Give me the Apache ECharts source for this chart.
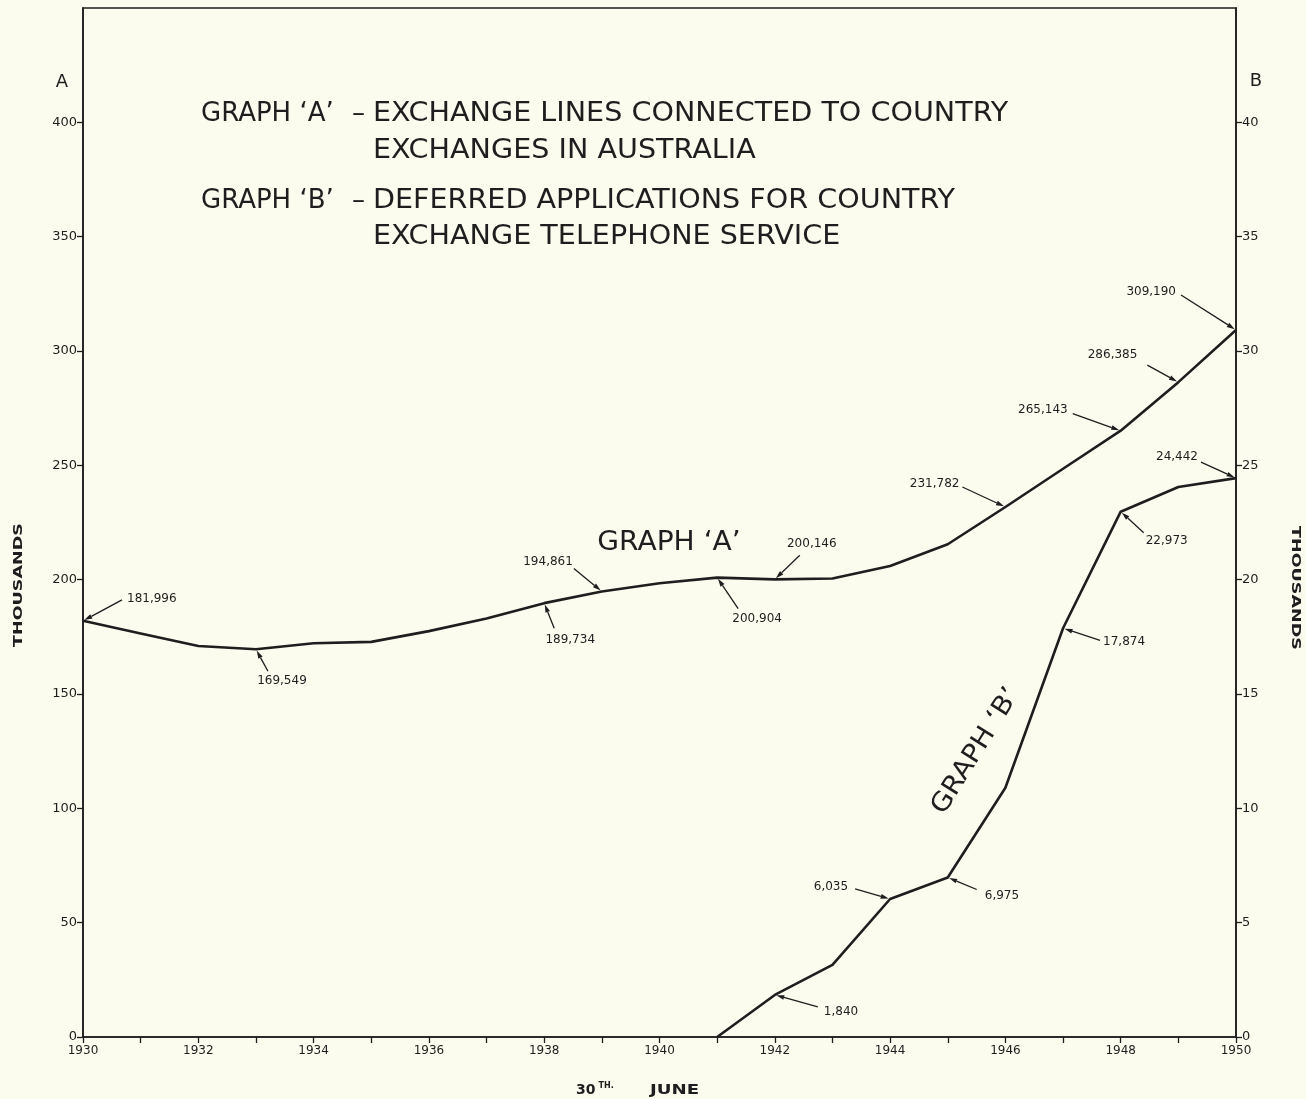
<!DOCTYPE html>
<html>
<head>
<meta charset="utf-8">
<title>Country Exchange Lines and Deferred Applications, 1930-1950</title>
<script src="https://cdn.jsdelivr.net/npm/echarts@6/dist/echarts.min.js"></script>
<style>
  html, body { margin: 0; padding: 0; background: #fbfbee; }
  #chart { width: 1306px; height: 1099px; }
</style>
</head>
<body>
<div id="chart"></div>
<script>
// Years at 30th June
const yearsA = [1930, 1931, 1932, 1933, 1934, 1935, 1936, 1937, 1938, 1939, 1940,
                1941, 1942, 1943, 1944, 1945, 1946, 1947, 1948, 1949, 1950];
// Graph A: exchange lines connected to country exchanges (thousands)
const linesA = [181.996, 176.5, 171.0, 169.549, 172.2, 172.8, 177.5, 183.0, 189.734, 194.861, 198.4,
                200.904, 200.146, 200.5, 206.0, 215.5, 231.782, 248.5, 265.143, 286.385, 309.190];

const yearsB = [1941, 1942, 1943, 1944, 1945, 1946, 1947, 1948, 1949, 1950];
// Graph B: deferred applications for country exchange service (thousands)
const deferredB = [0, 1.840, 3.15, 6.035, 6.975, 10.9, 17.874, 22.973, 24.05, 24.442];

// Years whose values are written beside the curves
const notedYearsA = [1930, 1933, 1938, 1939, 1941, 1942, 1946, 1948, 1949, 1950];
const notedYearsB = [1942, 1944, 1945, 1947, 1948, 1950];

// Axis tick values
const yearTicks = yearsA;
const leftTicks = [0, 50, 100, 150, 200, 250, 300, 350, 400];
const rightTicks = [0, 5, 10, 15, 20, 25, 30, 35, 40];

// Leader-line layout for each note: arrow tail offset from the point (dx, dy),
// then text offset from the tail (tx, ty) and its alignment.
const noteLayoutA = [
  { dx: 39, dy: -21, tx: 5, ty: -1, align: 'left' },
  { dx: 12, dy: 22, tx: 14, ty: 10, align: 'center' },
  { dx: 10, dy: 25, tx: 16, ty: 12, align: 'center' },
  { dx: -28, dy: -23, tx: -1, ty: -7, align: 'right' },
  { dx: 21, dy: 31, tx: 19, ty: 10, align: 'center' },
  { dx: 25, dy: -24, tx: 12, ty: -11, align: 'center' },
  { dx: -43, dy: -20, tx: -3, ty: -3, align: 'right' },
  { dx: -48, dy: -17, tx: -5, ty: -4, align: 'right' },
  { dx: -31, dy: -17, tx: -10, ty: -10, align: 'right' },
  { dx: -55, dy: -35, tx: -5, ty: -3, align: 'right' }
];
const noteLayoutB = [
  { dx: 43, dy: 12, tx: 6, ty: 5, align: 'left' },
  { dx: -35, dy: -10, tx: -7, ty: -2, align: 'right' },
  { dx: 29, dy: 12, tx: 8, ty: 6, align: 'left' },
  { dx: 37, dy: 12, tx: 3, ty: 2, align: 'left' },
  { dx: 23, dy: 21, tx: 2, ty: 8, align: 'left' },
  { dx: -35, dy: -16, tx: -3, ty: -5, align: 'right' }
];

const INK = '#1e1e1e';
const TEXT_FONT = 'DejaVu Sans, Liberation Sans, sans-serif';

function pairs(xs, ys) { return xs.map((x, i) => [x, ys[i]]); }
function valueAt(xs, ys, x) { return ys[xs.indexOf(x)]; }
function thousandsLabel(v) {
  return String(Math.round(v * 1000)).replace(/\B(?=(\d{3})+(?!\d))/g, ',');
}

function noteRenderer(layout) {
  return function (params, api) {
    const L = layout[params.dataIndex];
    const p = api.coord([api.value(0), api.value(1)]);
    const t = [p[0] + L.dx, p[1] + L.dy];
    const ang = Math.atan2(p[1] - t[1], p[0] - t[0]);
    const c = Math.cos(ang), s = Math.sin(ang);
    const tip = [p[0] - c * 1.5, p[1] - s * 1.5];
    const headLen = 8, headW = 2.4;
    const base = [tip[0] - c * headLen, tip[1] - s * headLen];
    const perp = [-s * headW, c * headW];
    return {
      type: 'group',
      children: [
        { type: 'line', shape: { x1: t[0], y1: t[1], x2: base[0], y2: base[1] },
          style: { stroke: INK, lineWidth: 1.3 } },
        { type: 'polygon',
          shape: { points: [tip, [base[0] + perp[0], base[1] + perp[1]], [base[0] - perp[0], base[1] - perp[1]]] },
          style: { fill: INK } },
        { type: 'text', x: t[0] + L.tx, y: t[1] + L.ty,
          style: { text: thousandsLabel(api.value(1)), align: L.align, verticalAlign: 'middle',
                   font: '12px ' + TEXT_FONT, fill: INK } }
      ]
    };
  };
}

const chart = echarts.init(document.getElementById('chart'), null, { renderer: 'canvas' });

const axisCommon = {
  axisLine: { show: true, lineStyle: { color: INK, width: 1.6 } },
  splitLine: { show: false },
  axisLabel: { color: INK, fontSize: 13, fontFamily: TEXT_FONT, margin: 6 }
};
function ticks(values) {
  return { show: true, length: 6, customValues: values, lineStyle: { color: INK, width: 1.3 } };
}

// Wide lettering for the headings
function heading(x, y, text, size, sx) {
  return { type: 'text', x: x, y: y, scaleX: sx, scaleY: 1,
    style: { text: text, font: size + 'px ' + TEXT_FONT, fill: INK, align: 'left', verticalAlign: 'middle' } };
}

const option = {
  backgroundColor: '#fbfbee',
  animation: false,
  grid: { left: 83, right: 70, top: 8, bottom: 62, show: true, borderColor: INK, borderWidth: 1.6 },
  xAxis: {
    type: 'value', min: 1930, max: 1950, interval: 1,
    ...axisCommon,
    axisTick: ticks(yearTicks),
    axisLabel: { ...axisCommon.axisLabel, margin: 8, fontSize: 12,
      formatter: v => (v % 2 === 0 ? String(v) : '') }
  },
  yAxis: [
    {
      type: 'value', position: 'left', min: 0, max: 450, interval: 50,
      ...axisCommon,
      axisTick: ticks(leftTicks),
      axisLabel: { ...axisCommon.axisLabel, customValues: leftTicks,
        formatter: v => (leftTicks.indexOf(v) >= 0 ? String(v) : '') }
    },
    {
      type: 'value', position: 'right', min: 0, max: 45, interval: 5,
      ...axisCommon,
      axisTick: ticks(rightTicks),
      axisLabel: { ...axisCommon.axisLabel, customValues: rightTicks,
        formatter: v => (rightTicks.indexOf(v) >= 0 ? String(v) : '') }
    }
  ],
  series: [
    {
      name: "GRAPH 'A'", type: 'line', yAxisIndex: 0,
      data: pairs(yearsA, linesA),
      showSymbol: false, symbol: 'none',
      lineStyle: { color: INK, width: 2.6, join: 'round' }
    },
    {
      name: "GRAPH 'B'", type: 'line', yAxisIndex: 1,
      data: pairs(yearsB, deferredB),
      showSymbol: false, symbol: 'none',
      lineStyle: { color: INK, width: 2.6, join: 'round' }
    },
    {
      type: 'custom', yAxisIndex: 0, clip: false, silent: true,
      data: notedYearsA.map(y => [y, valueAt(yearsA, linesA, y)]),
      renderItem: noteRenderer(noteLayoutA)
    },
    {
      type: 'custom', yAxisIndex: 1, clip: false, silent: true,
      data: notedYearsB.map(y => [y, valueAt(yearsB, deferredB, y)]),
      renderItem: noteRenderer(noteLayoutB)
    }
  ],
  graphic: [
    { type: 'text', x: 62, y: 82, style: { text: 'A', font: '18px ' + TEXT_FONT, fill: INK, align: 'center', verticalAlign: 'middle' } },
    { type: 'text', x: 1256, y: 81, style: { text: 'B', font: '18px ' + TEXT_FONT, fill: INK, align: 'center', verticalAlign: 'middle' } },

    heading(201, 114, 'GRAPH ‘A’', 26, 1.0),
    heading(352, 114, '–', 26, 1.0),
    heading(373, 114, 'EXCHANGE LINES CONNECTED TO COUNTRY', 26, 1.1),
    heading(373, 151, 'EXCHANGES IN AUSTRALIA', 26, 1.1),
    heading(201, 201, 'GRAPH ‘B’', 26, 1.0),
    heading(352, 201, '–', 26, 1.0),
    heading(373, 201, 'DEFERRED APPLICATIONS FOR COUNTRY', 26, 1.1),
    heading(373, 237, 'EXCHANGE TELEPHONE SERVICE', 26, 1.1),

    { type: 'text', x: 669, y: 543, scaleX: 1.08,
      style: { text: 'GRAPH ‘A’', font: '26px ' + TEXT_FONT, fill: INK, align: 'center', verticalAlign: 'middle' } },
    { type: 'text', x: 976, y: 751, rotation: 58 * Math.PI / 180, scaleX: 1.08,
      style: { text: 'GRAPH ‘B’', font: '26px ' + TEXT_FONT, fill: INK, align: 'center', verticalAlign: 'middle' } },

    { type: 'text', x: 19, y: 585, rotation: Math.PI / 2, scaleX: 1.35,
      style: { text: 'THOUSANDS', font: 'bold 13px ' + TEXT_FONT, fill: INK, align: 'center', verticalAlign: 'middle' } },
    { type: 'text', x: 1295, y: 588, rotation: -Math.PI / 2, scaleX: 1.35,
      style: { text: 'THOUSANDS', font: 'bold 13px ' + TEXT_FONT, fill: INK, align: 'center', verticalAlign: 'middle' } },

    { type: 'text', x: 576, y: 1090,
      style: {
        text: '{n|30}{s|TH.}',
        verticalAlign: 'middle',
        rich: {
          n: { font: 'bold 14px ' + TEXT_FONT, fill: INK },
          s: { font: 'bold 8px ' + TEXT_FONT, fill: INK, verticalAlign: 'top', padding: [0, 0, 8, 3] }
        }
      } },
    { type: 'text', x: 650, y: 1090, scaleX: 1.3,
      style: { text: 'JUNE', font: 'bold 14px ' + TEXT_FONT, fill: INK, verticalAlign: 'middle' } }
  ]
};

chart.setOption(option);
</script>
</body>
</html>
